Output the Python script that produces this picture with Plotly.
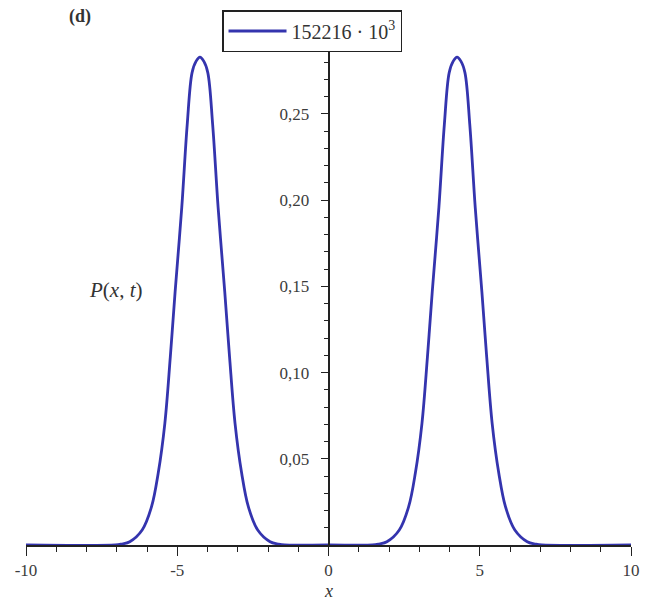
import plotly.graph_objects as go

# Probability density P(x, t): two symmetric lobes near x = ±4.25
x_vals = [-10, -7.05, -6.85, -6.57, -6.16, -5.85, -5.63, -5.41, -5.23, -5.07, -4.85,
          -4.67, -4.51, -4.38, -4.25, -4.12, -3.99, -3.83, -3.65, -3.43, -3.27, -3.09,
          -2.87, -2.65, -2.34, -1.93, -1.65, -1.45, 0,
          1.45, 1.65, 1.93, 2.34, 2.65, 2.87, 3.09, 3.27, 3.43, 3.65, 3.83, 3.99,
          4.12, 4.25, 4.38, 4.51, 4.67, 4.85, 5.07, 5.23, 5.41, 5.63, 5.85, 6.16,
          6.57, 6.85, 7.05, 10]
p_vals = [0, 0, 0.0005, 0.0019, 0.0087, 0.0222, 0.0416, 0.0706, 0.109, 0.147, 0.196,
          0.244, 0.274, 0.2805, 0.283, 0.2805, 0.274, 0.244, 0.196, 0.147, 0.109, 0.0706,
          0.0416, 0.0222, 0.0087, 0.0019, 0.0005, 0, 0,
          0, 0.0005, 0.0019, 0.0087, 0.0222, 0.0416, 0.0706, 0.109, 0.147, 0.196, 0.244,
          0.274, 0.2805, 0.283, 0.2805, 0.274, 0.244, 0.196, 0.147, 0.109, 0.0706,
          0.0416, 0.0222, 0.0087, 0.0019, 0.0005, 0, 0]

x_ticks = [-10, -5, 0, 5, 10]
x_tick_text = ["-10", "-5", "0", "5", "10"]
y_ticks = [0.05, 0.10, 0.15, 0.20, 0.25]
y_tick_text = ["0,05", "0,10", "0,15", "0,20", "0,25"]
series_name = "152216 · 10<sup>3</sup>"

SERIF = "Liberation Serif, DejaVu Serif, serif"
LINE_BLUE = "#3434ae"
TEXT_GREY = "#3c3c3c"

fig = go.Figure()
fig.add_trace(go.Scatter(
    x=x_vals, y=p_vals, mode="lines", name=series_name,
    line=dict(color=LINE_BLUE, width=2.8, shape="spline", smoothing=1.0),
    showlegend=True,
))

fig.update_layout(
    width=653, height=601,
    margin=dict(l=26, r=22, t=45, b=56, autoexpand=False),
    paper_bgcolor="white", plot_bgcolor="white",
    showlegend=True,
    legend=dict(
        x=0.324, y=1.07, xanchor="left", yanchor="top",
        bordercolor="#222222", borderwidth=1.5, bgcolor="white",
        font=dict(family=SERIF, size=20, color="#333333"),
        itemwidth=58, tracegroupgap=0,
    ),
    xaxis=dict(
        range=[-10, 10], domain=[0, 1],
        showgrid=False, zeroline=False,
        showline=True, linecolor="#222222", linewidth=1.6,
        tickmode="array", tickvals=x_ticks, ticktext=x_tick_text,
        ticks="outside", ticklen=9, tickwidth=1.4, tickcolor="#222222",
        minor=dict(dtick=1, ticks="outside", ticklen=5, tickwidth=1.2, tickcolor="#222222"),
        tickfont=dict(family=SERIF, size=17, color=TEXT_GREY),
    ),
    yaxis=dict(
        range=[0, 0.29], anchor="free", position=0.5,
        showgrid=False, zeroline=False,
        showline=True, linecolor="#222222", linewidth=1.6,
        tickmode="array", tickvals=y_ticks, ticktext=y_tick_text,
        ticks="outside", ticklen=7, tickwidth=1.4, tickcolor="#222222",
        ticklabelstandoff=8,
        minor=dict(dtick=0.01, tick0=0, ticks="outside", ticklen=4, tickwidth=1.2,
                   tickcolor="#222222"),
        tickfont=dict(family=SERIF, size=17, color=TEXT_GREY),
    ),
    annotations=[
        dict(text="<b>(d)</b>", xref="paper", yref="paper", x=0.089, y=1.056,
             xanchor="center", yanchor="middle", showarrow=False,
             font=dict(family=SERIF, size=18, color="#333333")),
        dict(text="<i>P</i>(<i>x</i>, <i>t</i>)", xref="paper", yref="paper",
             x=0.148, y=0.51, xanchor="center", yanchor="middle", showarrow=False,
             font=dict(family=SERIF, size=21, color="#333333")),
        dict(text="<i>x</i>", xref="paper", yref="paper", x=0.5, y=-0.092,
             xanchor="center", yanchor="middle", showarrow=False,
             font=dict(family=SERIF, size=18, color="#333333")),
    ],
)

fig.write_html("out.html")
